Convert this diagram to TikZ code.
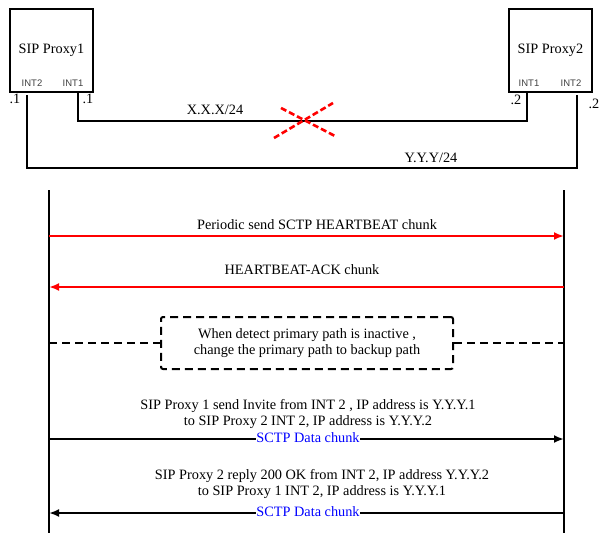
\documentclass[tikz,border=0pt]{standalone}
\usepackage{fontspec}
\setmainfont{Liberation Serif}
\newfontfamily\intfont{Liberation Sans}
\usetikzlibrary{arrows.meta}
\begin{document}
\begin{tikzpicture}[x=1pt,y=-1pt,
  lbl/.style={inner sep=0pt, font=\fontsize{14.3}{16.5}\selectfont, align=center},
  intl/.style={inner sep=0pt, font=\intfont\fontsize{9.5}{10}\selectfont, text=black!75},
  proxy/.style={draw, line width=1.1pt, minimum width=83pt, minimum height=83pt, inner sep=0pt, font=\fontsize{14.3}{15}\selectfont},
  net/.style={line width=2.2pt},
  life/.style={line width=1.8pt},
  cross/.style={red, line width=2.6pt, dash pattern=on 6pt off 3pt},
  hb/.style={red, line width=2.6pt, -{Latex[length=10pt,width=8pt]}},
  msg/.style={line width=2pt, -{Latex[length=10pt,width=8pt]}},
  dl/.style={line width=2pt, dash pattern=on 8pt off 5pt},
  chunk/.style={inner sep=0.8pt, fill=white, text=blue, font=\fontsize{14.3}{15}\selectfont},
  ]
\useasboundingbox (0,0) rectangle (600,533);

% proxies
\node[proxy] (p1) at (51.5,50.5) {SIP Proxy1};
\node[proxy] (p2) at (550.5,50.5) {SIP Proxy2};
\node[intl] (p1i2) at (32,83) {INT2};
\node[intl] (p1i1) at (73,83) {INT1};
\node[intl] (p2i1) at (529,83) {INT1};
\node[intl] (p2i2) at (571,83) {INT2};

% address labels
\node[lbl] (d11) at (15,99) {.1};
\node[lbl] (d12) at (88,99) {.1};
\node[lbl] (d21) at (516,100) {.2};
\node[lbl] (d22) at (594,104) {.2};

% networks
\coordinate (a1) at (78,92);
\coordinate (a2) at (527,121);
\coordinate (a3) at (527,92);
\draw[net] (a1) |- (a2) -- (a3);
\coordinate (b1) at (27,95);
\coordinate (b2) at (577,168);
\coordinate (b3) at (577,95);
\draw[net] (b1) |- (b2) -- (b3);
\node[lbl] (xnet) at (215,110) {X.X.X/24};
\node[lbl] (ynet) at (431,158) {Y.Y.Y/24};

% broken link
\coordinate (x1) at (281,108);
\coordinate (x2) at (335,136);
\coordinate (x3) at (274,138);
\coordinate (x4) at (333,103);
\draw[cross] (x1) -- (x2);
\draw[cross] (x3) -- (x4);

% lifelines
\coordinate (L1t) at (49,190);
\coordinate (L1b) at (49,533);
\coordinate (L2t) at (564,190);
\coordinate (L2b) at (564,533);
\draw[life] (L1t) -- (L1b);
\draw[life] (L2t) -- (L2b);

% heartbeat
\coordinate (h1s) at (49,236);
\coordinate (h1e) at (564,236);
\draw[hb] (h1s) -- (h1e);
\node[lbl] (t1) at (317,225) {Periodic send SCTP HEARTBEAT chunk};
\coordinate (h2s) at (564,287);
\coordinate (h2e) at (49,287);
\draw[hb] (h2s) -- (h2e);
\node[lbl] (t2) at (302,270) {HEARTBEAT-ACK chunk};

% failover
\node[draw, dl, rounded corners=2pt, minimum width=292pt, minimum height=52pt, lbl] (fb) at (307,343)
  {When detect primary path is inactive ,\\change the primary path to backup path};
\coordinate (f1) at (49,343);
\coordinate (f2) at (564,343);
\draw[dl] (f1) -- (fb.west);
\draw[dl] (fb.east) -- (f2);

% invite
\node[lbl] (t3) at (308,414) {SIP Proxy 1 send Invite from INT 2 , IP address is Y.Y.Y.1\\to SIP Proxy 2 INT 2, IP address is Y.Y.Y.2};
\coordinate (m1s) at (49,439);
\coordinate (m1e) at (564,439);
\draw[msg] (m1s) -- (m1e);
\node[chunk] (c1) at (308,438) {SCTP Data chunk};

% 200 OK
\node[lbl] (t4) at (322,484) {SIP Proxy 2 reply 200 OK from INT 2, IP address Y.Y.Y.2\\to SIP Proxy 1 INT 2, IP address is Y.Y.Y.1};
\coordinate (m2s) at (564,513);
\coordinate (m2e) at (49,513);
\draw[msg] (m2s) -- (m2e);
\node[chunk] (c2) at (308,512) {SCTP Data chunk};
\end{tikzpicture}
\end{document}
